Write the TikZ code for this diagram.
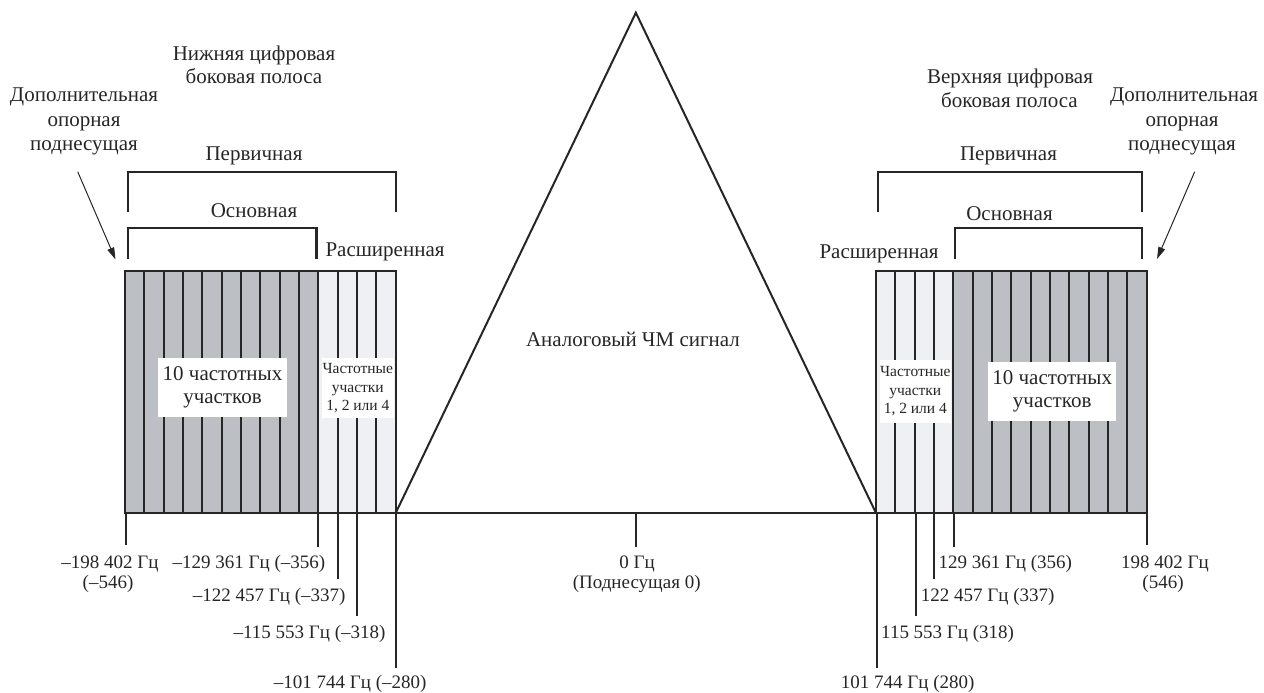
\documentclass[tikz,border=0pt]{standalone}
\usepackage{fontspec}
\setmainfont{Liberation Serif}
\usetikzlibrary{arrows.meta}
\definecolor{ink}{HTML}{262626}
\definecolor{darkband}{HTML}{BCBFC4}
\definecolor{lightband}{HTML}{EFF0F4}
\begin{document}
\begin{tikzpicture}[x=1pt,y=-1pt,
  title/.style={font=\fontsize{21}{24}\selectfont, inner sep=0pt, text=ink, anchor=base},
  num/.style={font=\fontsize{19}{20}\selectfont, inner sep=0pt, text=ink},
  small/.style={font=\fontsize{15.5}{18.3}\selectfont, text=ink},
  bigbox/.style={fill=white, inner sep=0pt, align=center, font=\fontsize{21}{23.3}\selectfont, text=ink},
  smallbox/.style={fill=white, inner sep=0pt, align=center, font=\fontsize{15.5}{18.3}\selectfont, text=ink},
  bracket/.style={draw=ink, line width=2.2pt},
  band/.style={draw=ink, line width=1.8pt},
  tick/.style={draw=ink, line width=2pt},
  pointer/.style={draw=ink, line width=1pt, -{Triangle[length=12pt,width=7pt]}},
  signal/.style={draw=ink, line width=2pt, line join=miter}]
\useasboundingbox (0,0) rectangle (1264,693);

% ---------- left sideband block ----------
\fill[darkband] (125,270.7) rectangle (318.4,513);
\fill[lightband] (318.4,270.7) rectangle (395.7,513);
\foreach \i in {0,...,14} {\draw[band] ({125+\i*19.336},270.7) -- ({125+\i*19.336},513);}
\draw[band] (125,270.7) rectangle (395.7,513);

% ---------- right sideband block ----------
\fill[lightband] (876,270.7) rectangle (953.3,513);
\fill[darkband] (953.3,270.7) rectangle (1146.7,513);
\foreach \i in {0,...,14} {\draw[band] ({876+\i*19.336},270.7) -- ({876+\i*19.336},513);}
\draw[band] (876,270.7) rectangle (1146.7,513);

% ---------- analog FM triangle and axis ----------
\coordinate (axL) at (395.7,513);
\coordinate (axR) at (876,513);
\coordinate (apex) at (635.85,12.7);
\coordinate (ax0) at (635.85,513);
\draw[signal] (axL) -- (apex) -- (axR);
\draw[tick] (axL) -- (axR);
\node[title] (analog) at (633,346) {Аналоговый ЧМ сигнал};

% ---------- boxes inside blocks ----------
\node[bigbox, minimum width=128.4pt, minimum height=58.4pt] (l10) at (222.5,387.5) {10 частотных\\участков};
\node[smallbox, minimum width=72.3pt, minimum height=60pt] (lext) at (357.8,388.3) {Частотные\\участки\\1, 2 или 4};
\node[smallbox, minimum width=70.7pt, minimum height=62.7pt] (rext) at (915.3,391.3) {Частотные\\участки\\1, 2 или 4};
\node[bigbox, minimum width=127.7pt, minimum height=58.4pt] (r10) at (1052.2,391.5) {10 частотных\\участков};

% ---------- top labels, left ----------
\node[title] (lt1) at (254,60) {Нижняя цифровая};
\node[title] (lt2) at (254,83.3) {боковая полоса};
\node[title] (la1) at (84,101.7) {Дополнительная};
\node[title] (la2) at (84,126) {опорная};
\node[title] (la3) at (84,150.7) {поднесущая};
\node[title] (lprim) at (254,160.7) {Первичная};
\node[title] (lmain) at (254,217.3) {Основная};
\node[title] (lextl) at (385,256.7) {Расширенная};
\draw[bracket] (127.7,211.7) -- (127.7,171.7) -- (395.7,171.7) -- (395.7,211.7);
\draw[bracket] (127.7,259.3) -- (127.7,228.3) -- (316.5,228.3) -- (316.5,259.3);
\coordinate (lpS) at (77.7,171.7);
\coordinate (lpE) at (115.5,259.5);
\draw[pointer] (lpS) -- (lpE);

% ---------- top labels, right ----------
\node[title] (rt1) at (1010,83.3) {Верхняя цифровая};
\node[title] (rt2) at (1009.5,107.3) {боковая полоса};
\node[title] (ra1) at (1184,101.7) {Дополнительная};
\node[title] (ra2) at (1182,126) {опорная};
\node[title] (ra3) at (1182,150.7) {поднесущая};
\node[title] (rprim) at (1008.5,160.7) {Первичная};
\node[title] (rmain) at (1009.5,220) {Основная};
\node[title] (rextl) at (879,258) {Расширенная};
\draw[bracket] (878,211.7) -- (878,171.7) -- (1142.3,171.7) -- (1142.3,211.7);
\draw[bracket] (955,259.3) -- (955,228.3) -- (1142.3,228.3) -- (1142.3,259.3);
\coordinate (rpS) at (1194.7,171.7);
\coordinate (rpE) at (1157,259);
\draw[pointer] (rpS) -- (rpE);

% ---------- ticks, left ----------
\coordinate (tL1) at (125.8,513);   \coordinate (tL1e) at (125.8,545);
\coordinate (tL2) at (318.4,513);   \coordinate (tL2e) at (318.4,546.7);
\coordinate (tL3) at (337.7,513);   \coordinate (tL3e) at (337.7,579);
\coordinate (tL4) at (357,513);     \coordinate (tL4e) at (357,615.7);
\coordinate (tL5) at (395.7,513);   \coordinate (tL5e) at (395.7,667.7);
\foreach \t in {tL1,tL2,tL3,tL4,tL5} {\draw[tick] (\t) -- (\t e);}

% ---------- ticks, right ----------
\coordinate (tR1) at (1146.7,513);  \coordinate (tR1e) at (1146.7,545);
\coordinate (tR2) at (953.6,513);   \coordinate (tR2e) at (953.6,546.7);
\coordinate (tR3) at (934.4,513);   \coordinate (tR3e) at (934.4,579);
\coordinate (tR4) at (915.6,513);   \coordinate (tR4e) at (915.6,615.7);
\coordinate (tR5) at (876.8,513);   \coordinate (tR5e) at (876.8,668);
\foreach \t in {tR1,tR2,tR3,tR4,tR5} {\draw[tick] (\t) -- (\t e);}

% ---------- centre tick ----------
\coordinate (t0e) at (635.85,546.7);
\draw[tick] (ax0) -- (t0e);

% ---------- frequency labels, left ----------
\node[num, anchor=base] (fL1a) at (110,568.3) {–198 402 Гц};
\node[num, anchor=base] (fL1b) at (108,588.3) {(–546)};
\node[num, anchor=base east] (fL2) at (325.5,568.3) {–129 361 Гц (–356)};
\node[num, anchor=base east] (fL3) at (345.7,601.7) {–122 457 Гц (–337)};
\node[num, anchor=base east] (fL4) at (385.7,638.3) {–115 553 Гц (–318)};
\node[num, anchor=base east] (fL5) at (426.7,688.3) {–101 744 Гц (–280)};

% ---------- frequency labels, centre ----------
\node[num, anchor=base] (f0a) at (637,568.3) {0 Гц};
\node[num, anchor=base] (f0b) at (636.7,588.3) {(Поднесущая 0)};

% ---------- frequency labels, right ----------
\node[num, anchor=base] (fR1a) at (1165,568.3) {198 402 Гц};
\node[num, anchor=base] (fR1b) at (1163,588.3) {(546)};
\node[num, anchor=base west] (fR2) at (938.3,568.3) {129 361 Гц (356)};
\node[num, anchor=base west] (fR3) at (920.7,601.7) {122 457 Гц (337)};
\node[num, anchor=base west] (fR4) at (881,638.3) {115 553 Гц (318)};
\node[num, anchor=base west] (fR5) at (840.7,688.3) {101 744 Гц (280)};
\end{tikzpicture}
\end{document}
